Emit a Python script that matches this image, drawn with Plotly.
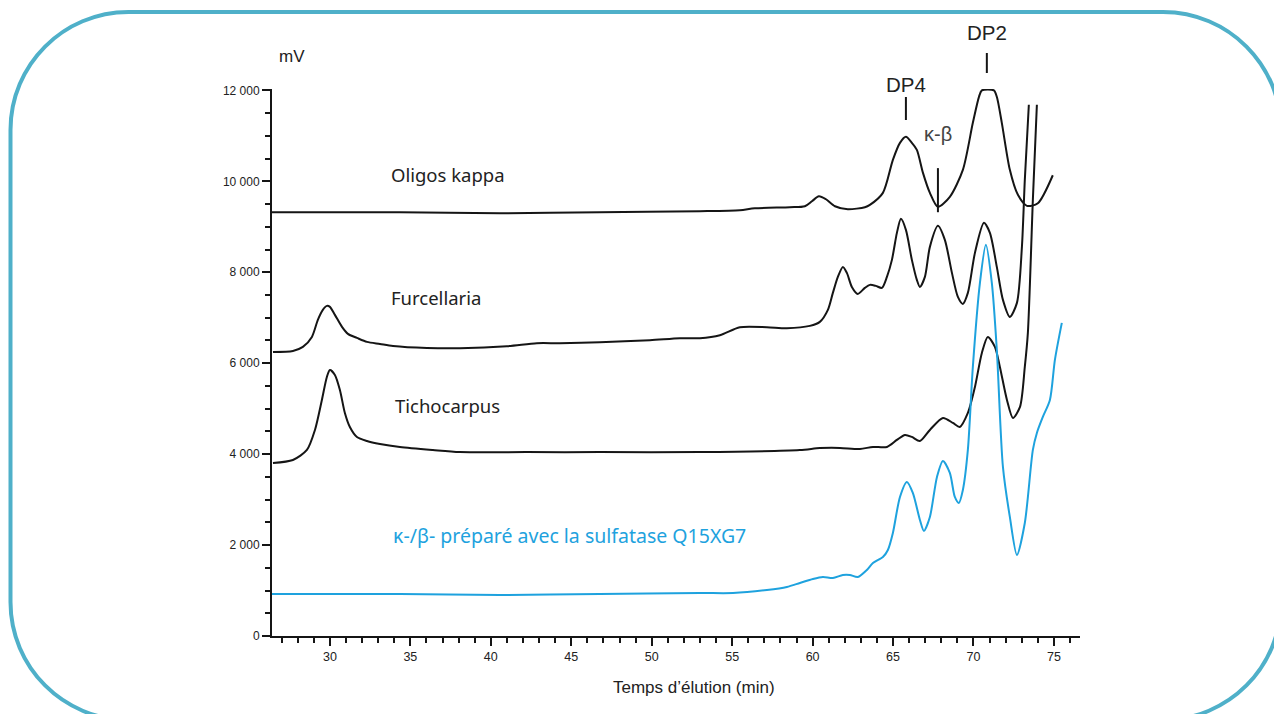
"""
Chromatogrammes HPLC - oligos kappa / Furcellaria / Tichocarpus / sulfatase Q15XG7
Signal (mV) en fonction du temps d'élution (min).
"""

import plotly.graph_objects as go

# ──────────────────────────────────────────────────────────────
# Data
# ──────────────────────────────────────────────────────────────

KAPPA_T = [26.40, 34.35, 40.57, 46.78, 53.00, 55.48, 56.41, 58.59, 59.52, 59.96,
           60.39, 60.83, 61.39, 62.19, 63.25, 63.56, 64.37, 64.99, 65.43, 65.80,
           66.17, 66.48, 66.86, 67.29, 67.79, 68.53, 69.34, 69.96, 70.34, 70.52,
           71.27, 71.45, 71.76, 72.26, 72.76, 73.32, 74.00, 74.93]
KAPPA_V = [9320, 9320, 9298, 9320, 9342, 9364, 9407, 9430, 9451, 9561,
           9671, 9605, 9451, 9386, 9430, 9482, 9746, 10472, 10846, 10978,
           10846, 10692, 10186, 9746, 9438, 9658, 10252, 11286, 11858, 12000,
           12000, 11858, 11286, 10252, 9702, 9460, 9517, 10133]

FURC_T = [26.46, 27.70, 28.32, 28.88, 29.25, 29.56, 29.81, 30.00, 30.31, 30.75,
          31.12, 31.68, 32.30, 33.11, 33.92, 36.03, 38.08, 41.00, 42.86, 44.29,
          46.78, 49.89, 51.75, 53.00, 54.24, 55.48, 57.16, 58.40, 59.83, 60.45,
          60.95, 61.26, 61.57, 61.88, 62.13, 62.44, 62.81, 63.25, 63.56, 63.93,
          64.31, 64.62, 64.93, 65.24, 65.49, 65.80, 66.17, 66.48, 66.67, 66.98,
          67.29, 67.79, 68.22, 68.66, 69.03, 69.34, 69.65, 70.09, 70.65, 71.02,
          71.45, 71.83, 72.26, 72.70, 73.01, 73.19, 73.44]
FURC_V = [6248, 6270, 6358, 6578, 6952, 7172, 7260, 7238, 7062, 6798,
          6644, 6556, 6468, 6424, 6380, 6336, 6330, 6374, 6440, 6440,
          6462, 6506, 6550, 6550, 6616, 6792, 6792, 6770, 6820, 6908,
          7172, 7546, 7898, 8118, 7986, 7678, 7524, 7656, 7722, 7700,
          7656, 7898, 8272, 8866, 9174, 8932, 8272, 7832, 7678, 7898,
          8558, 9020, 8712, 7986, 7458, 7304, 7546, 8426, 9086, 8866,
          8118, 7392, 7018, 7326, 8558, 10032, 11682]

TICHO_T = [26.46, 27.70, 28.57, 29.07, 29.50, 29.81, 30.00, 30.31, 30.62, 30.93,
           31.24, 31.68, 32.30, 33.11, 34.35, 36.40, 38.08, 42.24, 46.78, 53.00,
           59.21, 60.45, 61.70, 62.94, 63.75, 64.62, 65.24, 65.74, 66.17, 66.67,
           67.29, 68.10, 68.72, 69.15, 69.65, 70.09, 70.52, 70.89, 71.33, 71.64,
           72.08, 72.45, 72.89, 73.19, 73.38, 73.69, 73.94]
TICHO_V = [3806, 3871, 4091, 4531, 5191, 5697, 5851, 5741, 5411, 4905,
           4597, 4377, 4289, 4223, 4157, 4091, 4047, 4044, 4044, 4044,
           4088, 4132, 4136, 4114, 4158, 4158, 4312, 4422, 4378, 4290,
           4532, 4796, 4686, 4598, 4906, 5478, 6226, 6578, 6358, 5918,
           5192, 4796, 5038, 5918, 6666, 9592, 11682]

SULF_T = [26.40, 34.35, 40.57, 46.78, 53.00, 55.05, 57.16, 58.40, 59.21, 60.02,
          60.64, 61.26, 61.88, 62.32, 62.81, 63.37, 63.75, 64.37, 64.68, 64.99,
          65.43, 65.86, 66.23, 66.67, 66.92, 67.29, 67.73, 68.10, 68.53, 68.84,
          69.09, 69.34, 69.65, 69.96, 70.40, 70.77, 71.14, 71.45, 71.83, 72.26,
          72.70, 73.19, 73.69, 73.94, 74.31, 74.75, 75.06, 75.49]
SULF_V = [924, 924, 902, 924, 946, 946, 1012, 1078, 1166, 1254,
          1298, 1276, 1342, 1342, 1298, 1452, 1606, 1738, 1892, 2266,
          3058, 3388, 3146, 2552, 2310, 2618, 3498, 3850, 3586, 3058,
          2926, 3212, 4092, 5918, 7766, 8602, 7766, 6292, 3718, 2618,
          1782, 2486, 4092, 4466, 4818, 5192, 6072, 6886]

Y_TICKS = [0, 2000, 4000, 6000, 8000, 10000, 12000]
Y_TICKTEXT = ["0", "2 000", "4 000", "6 000", "8 000", "10 000", "12 000"]
X_TICKS = [30, 35, 40, 45, 50, 55, 60, 65, 70, 75]

# peak markers
KB_T, KB_LOW, KB_HIGH = 67.79, 9320, 10290
DP4_T = 65.80
DP2_T = 70.83

# ──────────────────────────────────────────────────────────────
# Layout helpers (page pixels; the page body has an 8 px margin)
# ──────────────────────────────────────────────────────────────

OFF = 8
W, H = 1282 - OFF, 714 - OFF
ML, MT = 272 - OFF, 89 - OFF
MR = W - (1080 - OFF)
MB = H - (636 - OFF)
PW, PH = W - ML - MR, H - MT - MB

BLACK = "#151515"
BLUE = "#1ea2de"
FRAME = "#4fb0c9"


def px(x, y):
    """page pixel position -> paper fraction"""
    return (x - OFF - ML) / PW, (H - MB - (y - OFF)) / PH


def rounded_rect(x0, y0, x1, y1, r):
    k = 0.5523 * r
    pts = [
        ("M", [(x0 + r, y0)]),
        ("L", [(x1 - r, y0)]),
        ("C", [(x1 - r + k, y0), (x1, y0 + r - k), (x1, y0 + r)]),
        ("L", [(x1, y1 - r)]),
        ("C", [(x1, y1 - r + k), (x1 - r + k, y1), (x1 - r, y1)]),
        ("L", [(x0 + r, y1)]),
        ("C", [(x0 + r - k, y1), (x0, y1 - r + k), (x0, y1 - r)]),
        ("L", [(x0, y0 + r)]),
        ("C", [(x0, y0 + r - k), (x0 + r - k, y0), (x0 + r, y0)]),
    ]
    out = []
    for cmd, coords in pts:
        out.append(cmd + " ".join(f"{px(a, b)[0]:.5f},{px(a, b)[1]:.5f}" for a, b in coords))
    return " ".join(out) + " Z"


# ──────────────────────────────────────────────────────────────
# Figure
# ──────────────────────────────────────────────────────────────

fig = go.Figure()

for t, v, color in [
    (KAPPA_T, KAPPA_V, BLACK),
    (FURC_T, FURC_V, BLACK),
    (TICHO_T, TICHO_V, BLACK),
    (SULF_T, SULF_V, BLUE),
]:
    fig.add_trace(go.Scatter(
        x=t, y=v, mode="lines",
        line=dict(color=color, width=2, shape="spline", smoothing=0.75),
        hoverinfo="skip", showlegend=False,
    ))

label_font = dict(family="Noto Sans, Open Sans, sans-serif", size=18.5, color="#222")
for text, x, y, color, size in [
    ("Oligos kappa", 33.67, 10140, "#222", 18.5),
    ("Furcellaria", 33.67, 7455, "#222", 18.5),
    ("Tichocarpus", 33.92, 5080, "#222", 18.5),
    ("κ-/β- préparé avec la sulfatase Q15XG7", 33.79, 2221, BLUE, 19.5),
]:
    fig.add_annotation(x=x, y=y, text=text, showarrow=False,
                       xanchor="left", yanchor="middle",
                       font=dict(label_font, color=color, size=size))

# peak labels
arial = "Liberation Sans, Arial, sans-serif"
fig.add_annotation(x=DP4_T, y=px(0, 84)[1], yref="paper", text="DP4",
                   showarrow=False, xanchor="center", yanchor="middle",
                   font=dict(family=arial, size=20.5, color="#222"))
fig.add_annotation(x=DP2_T, y=px(0, 32)[1], yref="paper", text="DP2",
                   showarrow=False, xanchor="center", yanchor="middle",
                   font=dict(family=arial, size=20.5, color="#222"))
fig.add_annotation(x=KB_T, y=11036, text="κ-β",
                   showarrow=False, xanchor="center", yanchor="middle",
                   font=dict(family=arial, size=20, color="#444"))

fig.add_shape(type="line", x0=DP4_T, x1=DP4_T, yref="paper",
              y0=px(0, 120)[1], y1=px(0, 97)[1], line=dict(color=BLACK, width=2))
fig.add_shape(type="line", x0=DP2_T, x1=DP2_T, yref="paper",
              y0=px(0, 73)[1], y1=px(0, 53)[1], line=dict(color=BLACK, width=2))
fig.add_shape(type="line", x0=KB_T, x1=KB_T, y0=KB_LOW, y1=KB_HIGH,
              line=dict(color=BLACK, width=2))

# unit + axis title
fig.add_annotation(xref="paper", yref="paper", x=px(292, 0)[0], y=px(0, 57)[1],
                   text="mV", showarrow=False, xanchor="center", yanchor="middle",
                   font=dict(family=arial, size=17, color="#222"))
fig.add_annotation(xref="paper", yref="paper", x=px(694, 0)[0], y=px(0, 687)[1],
                   text="Temps d’élution (min)", showarrow=False,
                   xanchor="center", yanchor="middle",
                   font=dict(family=arial, size=17, color="#222"))

# rounded frame
fig.add_shape(type="path", xref="paper", yref="paper", layer="below",
              path=rounded_rect(10.5, 12, 1281, 720, 118),
              line=dict(color=FRAME, width=4))

fig.update_xaxes(
    range=[26.4, 76.62], tickvals=X_TICKS,
    showline=True, linecolor=BLACK, linewidth=2,
    ticks="outside", ticklen=8, tickwidth=2, tickcolor=BLACK,
    minor=dict(dtick=1, tick0=0, ticks="outside", ticklen=5, tickwidth=1.5, tickcolor=BLACK),
    showgrid=False, zeroline=False,
    tickfont=dict(family=arial, size=12.5, color="#222"),
)
fig.update_yaxes(
    range=[0, 12030], tickvals=Y_TICKS, ticktext=Y_TICKTEXT,
    showline=True, linecolor=BLACK, linewidth=2,
    ticks="outside", ticklen=8, tickwidth=2, tickcolor=BLACK,
    minor=dict(dtick=500, tick0=0, ticks="outside", ticklen=5, tickwidth=1.5, tickcolor=BLACK),
    showgrid=False, zeroline=False,
    tickfont=dict(family=arial, size=12, color="#222"),
)

fig.update_layout(
    width=W, height=H,
    margin=dict(l=ML, r=MR, t=MT, b=MB),
    paper_bgcolor="white",
    plot_bgcolor="white",
    showlegend=False,
)

fig.write_html("out.html")
